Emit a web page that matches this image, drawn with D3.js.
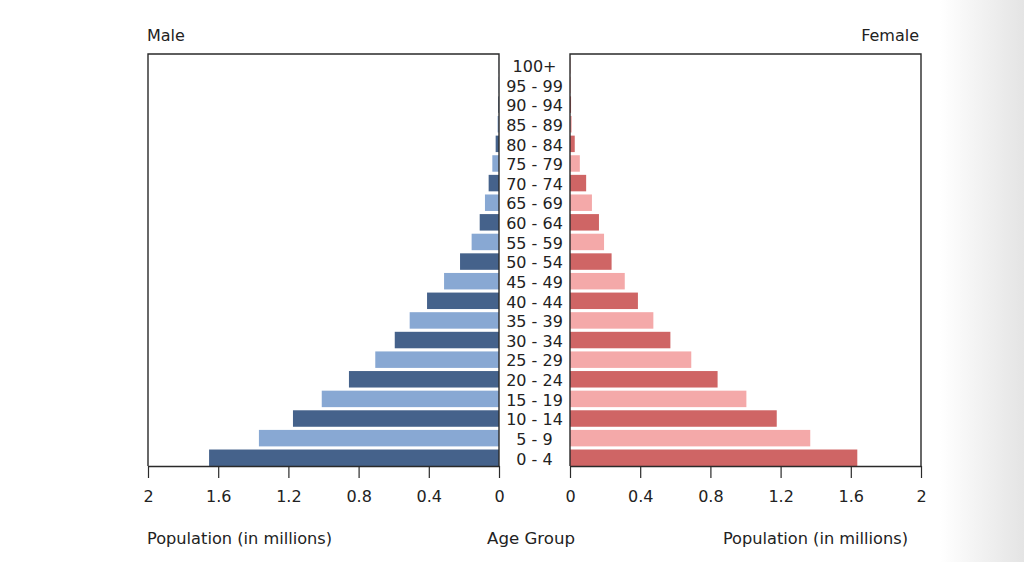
<!DOCTYPE html>
<html>
<head>
<meta charset="utf-8">
<script src="https://cdn.jsdelivr.net/npm/d3@7"></script>
<style>
  html, body { margin: 0; padding: 0; background: #fff; }
  svg { display: block; }
  text { font-family: "DejaVu Sans", sans-serif; fill: #222; }
</style>
</head>
<body>
<svg id="chart" width="1024" height="562"></svg>
<script>
const ageGroups = ["0 - 4","5 - 9","10 - 14","15 - 19","20 - 24","25 - 29","30 - 34","35 - 39","40 - 44","45 - 49","50 - 54","55 - 59","60 - 64","65 - 69","70 - 74","75 - 79","80 - 84","85 - 89","90 - 94","95 - 99","100+"];
const maleValues = [1.652,1.368,1.174,1.010,0.855,0.705,0.594,0.509,0.410,0.313,0.222,0.156,0.110,0.080,0.059,0.038,0.019,0.008,0.004,0.002,0.001];
const femaleValues = [1.637,1.369,1.178,1.005,0.841,0.691,0.572,0.475,0.387,0.312,0.237,0.194,0.165,0.125,0.092,0.056,0.027,0.010,0.006,0.004,0.002];
const tickValues = [0, 0.4, 0.8, 1.2, 1.6, 2];
const maleColors = ["#45628b", "#88a8d3"];
const femaleColors = ["#cf6565", "#f4a9a9"];

const svg = d3.select("#chart");

// subtle grey gradient at right edge
const defs = svg.append("defs");
const grad = defs.append("linearGradient").attr("id", "edge").attr("x1", "0").attr("x2", "1");
grad.append("stop").attr("offset", "0").attr("stop-color", "#ffffff");
grad.append("stop").attr("offset", "1").attr("stop-color", "#e4e4e4");
svg.append("rect").attr("x", 940).attr("y", 0).attr("width", 84).attr("height", 562).attr("fill", "url(#edge)");

const plotTop = 54, plotBottom = 466;
const lx0 = 148, lx1 = 499, rx0 = 570, rx1 = 921;

const y = d3.scaleBand().domain(ageGroups).range([plotBottom, plotTop])
  .paddingInner(0.16).paddingOuter(0.08).align(1);
const xL = d3.scaleLinear().domain([0, 2]).range([lx1, lx0]);
const xR = d3.scaleLinear().domain([0, 2]).range([rx0, rx1]);

// bars
svg.append("g").selectAll("rect").data(ageGroups).join("rect")
  .attr("x", (d, i) => xL(maleValues[i]))
  .attr("y", d => y(d))
  .attr("width", (d, i) => xL(0) - xL(maleValues[i]))
  .attr("height", y.bandwidth())
  .attr("fill", (d, i) => maleColors[i % 2]);

svg.append("g").selectAll("rect").data(ageGroups).join("rect")
  .attr("x", xR(0))
  .attr("y", d => y(d))
  .attr("width", (d, i) => xR(femaleValues[i]) - xR(0))
  .attr("height", y.bandwidth())
  .attr("fill", (d, i) => femaleColors[i % 2]);

// frames
const frame = svg.append("g").attr("fill", "none").attr("stroke", "#2a2a2a").attr("stroke-width", 1.4);
frame.append("path").attr("d", `M${lx1},${plotBottom}V${plotTop}H${lx0}V${plotBottom}`);
frame.append("path").attr("d", `M${rx0},${plotBottom}V${plotTop}H${rx1}V${plotBottom}`);

// axes
const axL = svg.append("g").attr("transform", `translate(0,${plotBottom})`)
  .call(d3.axisBottom(xL).tickValues(tickValues).tickFormat(d3.format("")).tickSizeInner(12).tickSizeOuter(0).tickPadding(13));
const axR = svg.append("g").attr("transform", `translate(0,${plotBottom})`)
  .call(d3.axisBottom(xR).tickValues(tickValues).tickFormat(d3.format("")).tickSizeInner(12).tickSizeOuter(0).tickPadding(13));
[axL, axR].forEach(ax => {
  ax.selectAll("path.domain").attr("stroke", "#2a2a2a").attr("stroke-width", 1.4);
  ax.selectAll(".tick line").attr("stroke", "#2a2a2a").attr("stroke-width", 1.2);
  ax.selectAll(".tick text").attr("font-family", "DejaVu Sans, sans-serif")
    .attr("font-size", 16).attr("fill", "#222");
});

// age labels
svg.append("g").selectAll("text").data(ageGroups).join("text")
  .attr("x", (lx1 + rx0) / 2)
  .attr("y", d => y(d) + y.bandwidth() / 2 + 1)
  .attr("dy", "0.36em")
  .attr("text-anchor", "middle")
  .attr("font-size", 16)
  .text(d => d);

// titles
svg.append("text").attr("x", 147).attr("y", 41).attr("font-size", 16).text("Male");
svg.append("text").attr("x", 919).attr("y", 41).attr("font-size", 16).attr("text-anchor", "end").text("Female");
svg.append("text").attr("x", 147).attr("y", 544).attr("font-size", 16.2).text("Population (in millions)");
svg.append("text").attr("x", 531).attr("y", 544).attr("font-size", 16.6).attr("text-anchor", "middle").text("Age Group");
svg.append("text").attr("x", 908).attr("y", 544).attr("font-size", 16.2).attr("text-anchor", "end").text("Population (in millions)");
</script>
</body>
</html>
